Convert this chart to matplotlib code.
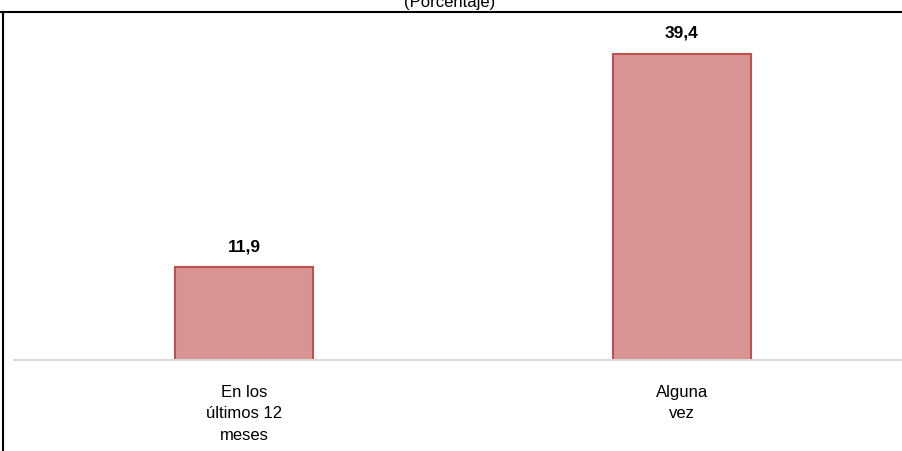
import matplotlib.pyplot as plt
from matplotlib.lines import Line2D
from matplotlib import font_manager

categories = ["En los\núltimos 12\nmeses", "Alguna\nvez"]
values = [11.9, 39.4]
value_labels = ["11,9", "39,4"]

names = {f.name for f in font_manager.fontManager.ttflist}
family = ["Liberation Sans Narrow", "Liberation Sans", "DejaVu Sans"]
family = [f for f in family if f in names] or ["DejaVu Sans"]
plt.rcParams["font.family"] = family

W, H = 902, 452
fig = plt.figure(figsize=(W / 100, H / 100), dpi=100)
ax = fig.add_axes([14 / W, (H - 361) / H, 888 / W, 350 / H])

x = list(range(len(categories)))
ax.bar(x, values, width=0.315, color="#D99594", edgecolor="#C0504D", linewidth=1.5, zorder=2)
for xi, v, lab in zip(x, values, value_labels):
    ax.annotate(lab, (xi, v), xytext=(0, 10), textcoords="offset points",
                ha="center", va="bottom", fontsize=12.5, fontweight="bold")

ax.set_xlim(-0.525, 1.503)
ax.set_ylim(0, 45)
for s in ["top", "right", "left"]:
    ax.spines[s].set_visible(False)
ax.spines["bottom"].set_color("#D9D9D9")
ax.spines["bottom"].set_linewidth(1.5)
ax.set_yticks([])
ax.set_xticks(x)
ax.set_xticklabels(categories, fontsize=12, linespacing=1.55)
ax.tick_params(axis="x", length=0, pad=17)

# frame lines (top and left) and cropped subtitle
fig.add_artist(Line2D([0, 1], [1 - 13 / H, 1 - 13 / H], color="black", lw=1.5))
fig.add_artist(Line2D([3 / W, 3 / W], [0, 1 - 13 / H], color="black", lw=1.5))
fig.text(450 / W, 1 - 3 / H, "(Porcentaje)", ha="center", va="center", fontsize=12)

fig.savefig("out.png", dpi=100)
